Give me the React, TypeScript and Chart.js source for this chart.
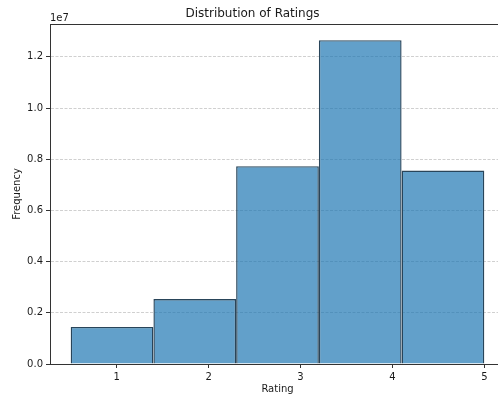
import React, { useEffect, useRef } from 'react';
import { Chart, registerables } from 'chart.js';

Chart.register(...registerables);

// ---- data ----
const binEdges = [0.5, 1.4, 2.3, 3.2, 4.1, 5.0];
const counts = [1450000, 2540000, 7730000, 12650000, 7560000];
const xTicks = [1, 2, 3, 4, 5];
const yTicks = [0, 2000000, 4000000, 6000000, 8000000, 10000000, 12000000];
const yTickLabels = ['0.0', '0.2', '0.4', '0.6', '0.8', '1.0', '1.2'];
const yOffsetText = '1e7';
const titleText = 'Distribution of Ratings';
const xLabel = 'Rating';
const yLabel = 'Frequency';

const FONT = '"DejaVu Sans", sans-serif';
const TEXT = '#1a1a1a';
const SPINE = '#333333';

const framePlugin = {
  id: 'frame',
  afterDraw(chart: any) {
    const { ctx, chartArea: a } = chart;
    ctx.save();
    ctx.strokeStyle = SPINE;
    ctx.lineWidth = 1;
    ctx.beginPath();
    const t = Math.round(a.top) + 0.5;
    const r = Math.round(a.right) - 0.5;
    ctx.moveTo(a.left, t);
    ctx.lineTo(a.right, t);
    ctx.moveTo(r, a.top);
    ctx.lineTo(r, a.bottom);
    ctx.stroke();
    ctx.fillStyle = TEXT;
    ctx.font = `10px ${FONT}`;
    ctx.textAlign = 'left';
    ctx.textBaseline = 'alphabetic';
    ctx.fillText(yOffsetText, a.left, a.top - 3);
    ctx.restore();
  },
};

export default function App() {
  const ref = useRef<HTMLCanvasElement>(null);

  useEffect(() => {
    const centers = counts.map((_, i) => (binEdges[i] + binEdges[i + 1]) / 2);
    const span = binEdges[binEdges.length - 1] - binEdges[0];
    const xMin = binEdges[0] - 0.05 * span;
    const xMax = binEdges[binEdges.length - 1] + 0.05 * span;
    const yMax = Math.max(...counts) * 1.05;

    const chart = new Chart(ref.current as HTMLCanvasElement, {
      type: 'bar',
      data: {
        datasets: [
          {
            data: centers.map((x, i) => ({ x, y: counts[i] })),
            backgroundColor: 'rgba(31,119,180,0.7)',
            borderColor: '#29455a',
            borderWidth: 1.4,
            borderSkipped: 'bottom',
            barPercentage: 1,
            categoryPercentage: 1,
            inflateAmount: 0,
          } as any,
        ],
      },
      options: {
        responsive: false,
        animation: false,
        devicePixelRatio: 1,
        layout: { padding: { left: 0, right: 15, top: 0, bottom: 0 } },
        plugins: {
          legend: { display: false },
          tooltip: { enabled: false },
          title: {
            display: true,
            text: titleText,
            color: TEXT,
            font: { family: FONT, size: 12, weight: 'normal' },
            padding: { top: 7, bottom: 2.6 },
          },
        },
        scales: {
          x: {
            type: 'linear',
            min: xMin,
            max: xMax,
            offset: false,
            afterFit: (s: any) => {
              s.height = 32;
            },
            afterBuildTicks: (s: any) => {
              s.ticks = xTicks.map((v) => ({ value: v }));
            },
            ticks: {
              color: TEXT,
              font: { family: FONT, size: 10 },
              padding: 3,
              maxRotation: 0,
              autoSkip: false,
              callback: (v: any) => String(v),
            },
            grid: {
              offset: false,
              drawOnChartArea: false,
              drawTicks: true,
              tickLength: 4,
              tickColor: SPINE,
              tickWidth: 1,
            },
            border: { display: true, color: SPINE, width: 1, z: 1 },
            title: {
              display: true,
              text: xLabel,
              color: TEXT,
              font: { family: FONT, size: 10 },
              padding: { top: 0, bottom: 1 },
            },
          } as any,
          y: {
            type: 'linear',
            min: 0,
            max: yMax,
            afterFit: (s: any) => {
              s.width = 50;
            },
            afterBuildTicks: (s: any) => {
              s.ticks = yTicks.map((v) => ({ value: v }));
            },
            ticks: {
              color: TEXT,
              font: { family: FONT, size: 10 },
              padding: 3,
              autoSkip: false,
              callback: (_v: any, i: number) => yTickLabels[i],
            },
            grid: {
              drawOnChartArea: true,
              color: (c: any) =>
                c.tick && c.tick.value === 0 ? 'rgba(0,0,0,0)' : 'rgba(176,176,176,0.6)',
              lineWidth: 1,
              drawTicks: true,
              tickLength: 4,
              tickColor: SPINE,
              tickWidth: 1,
              tickBorderDash: [],
            },
            border: { display: true, color: SPINE, width: 1, dash: [3, 1.5], z: 1 },
            title: {
              display: true,
              text: yLabel,
              color: TEXT,
              font: { family: FONT, size: 10 },
              padding: { top: 11, bottom: 0 },
            },
          } as any,
        },
      },
      plugins: [framePlugin],
    });
    return () => chart.destroy();
  }, []);

  return (
    <div
      style={{
        position: 'fixed',
        left: 0,
        top: 0,
        width: 498,
        height: 396,
        overflow: 'hidden',
        background: '#ffffff',
      }}
    >
      <canvas ref={ref} width={520} height={396} style={{ display: 'block' }} />
    </div>
  );
}
